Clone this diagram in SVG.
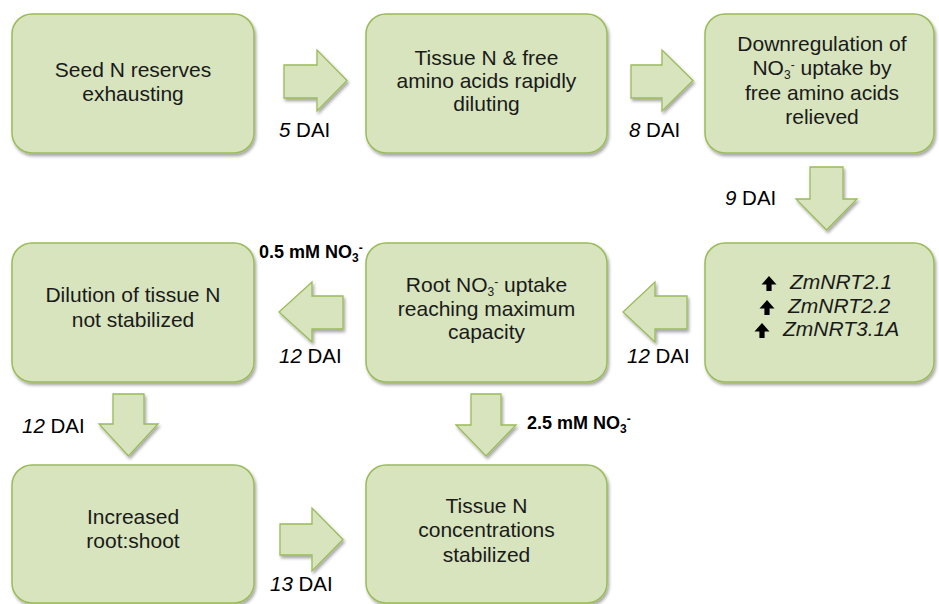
<svg xmlns="http://www.w3.org/2000/svg" xmlns:xlink="http://www.w3.org/1999/xlink" width="939" height="604" viewBox="0 0 939 604">
<defs>
<filter id="sh" x="-10%" y="-10%" width="125%" height="130%">
<feDropShadow dx="1.5" dy="2.5" stdDeviation="1.6" flood-color="#000" flood-opacity="0.35"/>
</filter>
<path id="up" d="M7,0 L14.5,8.5 L9.6,8.5 L9.6,15 L4.4,15 L4.4,8.5 L-0.5,8.5 Z" fill="#000"/>
</defs>
<style>
.box{fill:#d7e4bd;stroke:#9bbb59;stroke-width:1.5;filter:url(#sh)}
.arr{fill:#d7e4bd;stroke:#9bbb59;stroke-width:1.3;stroke-linejoin:miter;filter:url(#sh)}
.t{font-family:"Liberation Sans",Arial,sans-serif;font-size:21px;fill:#1a1a1a;text-anchor:middle}
.g{font-family:"Liberation Sans",Arial,sans-serif;font-size:21px;fill:#1a1a1a;font-style:italic}
.lab{font-family:"Liberation Sans",Arial,sans-serif;font-size:20.5px;fill:#000}
.b{font-family:"Liberation Sans",Arial,sans-serif;font-size:18px;font-weight:bold;fill:#000}
.i{font-style:italic}
.sb{font-size:12px;baseline-shift:-3.5px}
.sp{font-size:12px;baseline-shift:6px}
.sbb{font-size:12px;baseline-shift:-4px}
.spb{font-size:12px;baseline-shift:6px}
</style>
<rect width="939" height="604" fill="#fff"/>

<g id="connectors">
<polygon class="arr" points="284,65 317,65 317,50 347,80.5 317,111 317,98 284,98"/>
<polygon class="arr" points="631,65 662,65 662,50 693,80.5 662,111 662,98 631,98"/>
<polygon class="arr" points="810,167 843,167 843,199 857,199 826.5,230 796,199 810,199"/>
<polygon class="arr" points="343,296 312,296 312,282 279,312 312,342 312,329 343,329"/>
<polygon class="arr" points="687,296 655,296 655,282 623,312 655,342 655,329 687,329"/>
<polygon class="arr" points="113,394 144,394 144,424 158,424 128.5,456 99,424 113,424"/>
<polygon class="arr" points="471,394 501,394 501,425 516,425 486,456 456,425 471,425"/>
<polygon class="arr" points="280,524 312,524 312,508 343,539.5 312,571 312,555 280,555"/>
<text class="lab" x="279" y="137"><tspan class="i">5</tspan> DAI</text>
<text class="lab" x="629" y="137"><tspan class="i">8</tspan> DAI</text>
<text class="lab" x="725" y="205"><tspan class="i">9</tspan> DAI</text>
<text class="b" x="259" y="258">0.5 mM NO<tspan class="sbb">3</tspan><tspan class="spb">-</tspan></text>
<text class="lab" x="279" y="363"><tspan class="i">12</tspan> DAI</text>
<text class="lab" x="627" y="363"><tspan class="i">12</tspan> DAI</text>
<text class="lab" x="22" y="433"><tspan class="i">12</tspan> DAI</text>
<text class="b" x="527" y="429">2.5 mM NO<tspan class="sbb">3</tspan><tspan class="spb">-</tspan></text>
<text class="lab" x="270" y="591"><tspan class="i">13</tspan> DAI</text>
</g>

<g id="n1">
<rect class="box" x="12" y="14" width="242" height="139" rx="20"/>
<text class="t" x="133" y="77">Seed N reserves</text>
<text class="t" x="133" y="101">exhausting</text>
</g>
<g id="n2">
<rect class="box" x="366" y="14" width="241" height="139" rx="20"/>
<text class="t" x="486.5" y="65">Tissue N &amp; free</text>
<text class="t" x="486.5" y="88">amino acids rapidly</text>
<text class="t" x="486.5" y="111">diluting</text>
</g>
<g id="n3">
<rect class="box" x="705" y="14" width="229" height="139" rx="20"/>
<text class="t" x="822" y="51">Downregulation of</text>
<text class="t" x="822" y="75">NO<tspan class="sb">3</tspan><tspan class="sp">-</tspan> uptake by</text>
<text class="t" x="822" y="100">free amino acids</text>
<text class="t" x="822" y="124">relieved</text>
</g>
<g id="n4">
<rect class="box" x="12" y="243" width="242" height="139" rx="20"/>
<text class="t" x="133" y="302">Dilution of tissue N</text>
<text class="t" x="133" y="327">not stabilized</text>
</g>
<g id="n5">
<rect class="box" x="366" y="243" width="241" height="139" rx="20"/>
<text class="t" x="486.5" y="292">Root NO<tspan class="sb">3</tspan><tspan class="sp">-</tspan> uptake</text>
<text class="t" x="486.5" y="316">reaching maximum</text>
<text class="t" x="486.5" y="339">capacity</text>
</g>
<g id="n6">
<rect class="box" x="705" y="243" width="229" height="139" rx="20"/>
<use xlink:href="#up" href="#up" x="762" y="276"/>
<text class="g" x="790" y="289">ZmNRT2.1</text>
<use xlink:href="#up" href="#up" x="760" y="300"/>
<text class="g" x="788" y="313">ZmNRT2.2</text>
<use xlink:href="#up" href="#up" x="755" y="323"/>
<text class="g" x="783" y="336">ZmNRT3.1A</text>
</g>
<g id="n7">
<rect class="box" x="12" y="465" width="242" height="138" rx="20"/>
<text class="t" x="133" y="524">Increased</text>
<text class="t" x="133" y="548">root:shoot</text>
</g>
<g id="n8">
<rect class="box" x="366" y="465" width="241" height="138" rx="20"/>
<text class="t" x="486.5" y="513">Tissue N</text>
<text class="t" x="486.5" y="537">concentrations</text>
<text class="t" x="486.5" y="562">stabilized</text>
</g>
</svg>
